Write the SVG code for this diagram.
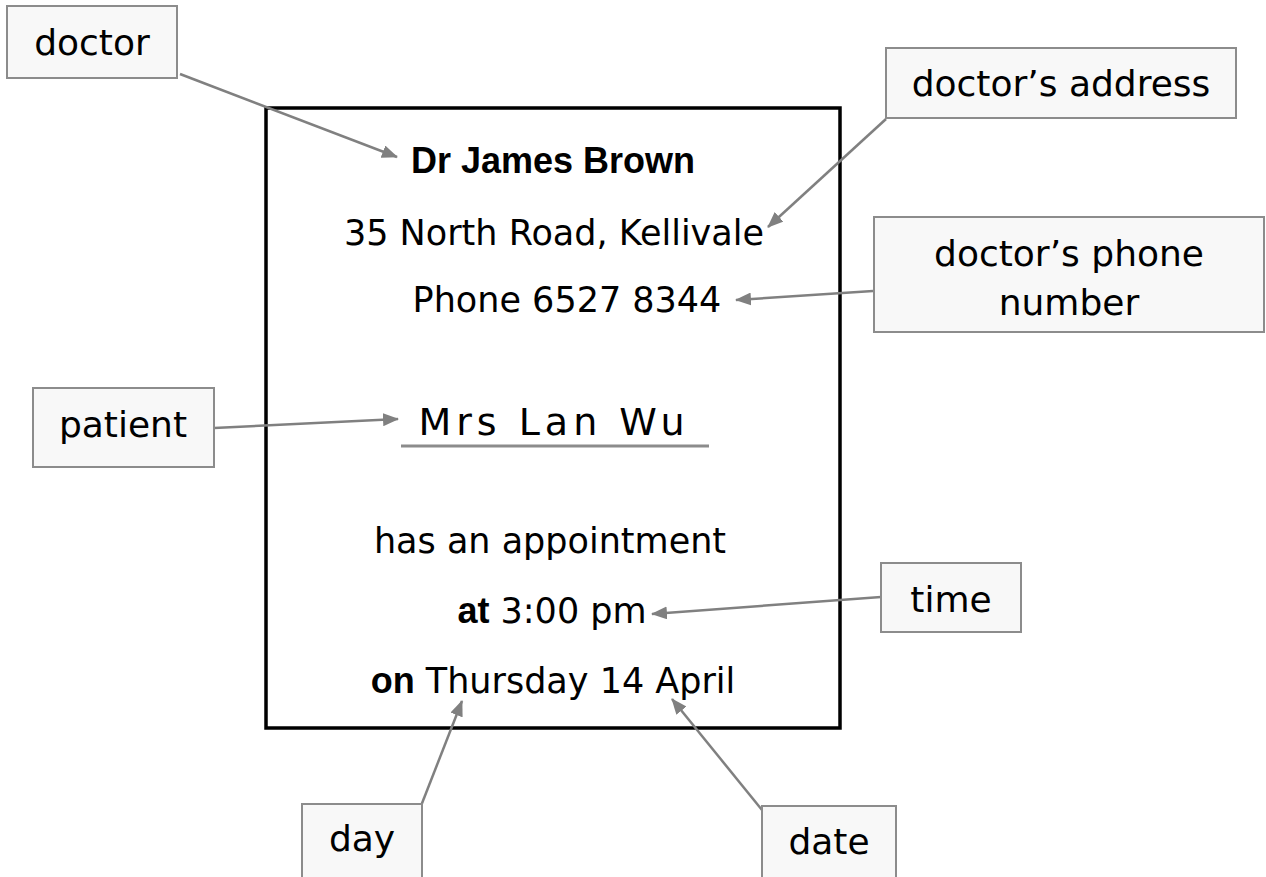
<svg xmlns="http://www.w3.org/2000/svg" width="1266" height="877" viewBox="0 0 1266 877">
<style>
.box{fill:#f8f8f8;stroke:#8c8c8c;stroke-width:2}
.lbl{font-family:"DejaVu Sans","Liberation Sans",sans-serif;font-size:36px;fill:#000;text-anchor:middle}
.card{fill:#fff;stroke:#000;stroke-width:3.5}
.ct{font-family:"DejaVu Sans","Liberation Sans",sans-serif;font-size:35px;fill:#000;text-anchor:middle}
.b{font-family:"Liberation Sans",Arial,sans-serif;font-weight:bold;font-size:36px}
.hand{font-family:"DejaVu Sans",sans-serif;font-size:38px;letter-spacing:5px;fill:#000;text-anchor:middle}
.con{stroke:#808080;stroke-width:2.5;fill:none;marker-end:url(#ah)}
</style>
<defs>
<marker id="ah" markerUnits="userSpaceOnUse" markerWidth="16" markerHeight="13" refX="15" refY="6.5" orient="auto">
<path d="M0,0 L16,6.5 L0,13 z" fill="#808080"/>
</marker>
</defs>
<rect width="1266" height="877" fill="#fff"/>
<g id="card">
<rect class="card" x="266" y="108" width="574" height="620"/>
<text class="ct b" x="553" y="173">Dr James Brown</text>
<text class="ct" x="554" y="245">35 North Road, Kellivale</text>
<text class="ct" x="567" y="312">Phone 6527 8344</text>
<text class="hand" x="554" y="435">Mrs Lan Wu</text>
<line x1="401" y1="446" x2="709" y2="446" stroke="#8c8c8c" stroke-width="3"/>
<text class="ct" x="550" y="553">has an appointment</text>
<text class="ct" x="552" y="623"><tspan class="b">at</tspan> 3:00 pm</text>
<text class="ct" x="553" y="693"><tspan class="b">on</tspan> Thursday 14 April</text>
</g>
<g id="connectors">
<line class="con" x1="180" y1="74" x2="397" y2="157"/>
<line class="con" x1="886" y1="119" x2="768" y2="227"/>
<line class="con" x1="873" y1="291" x2="736" y2="300"/>
<line class="con" x1="214" y1="428" x2="398" y2="419"/>
<line class="con" x1="881" y1="597" x2="652" y2="614"/>
<line class="con" x1="419" y1="811" x2="462" y2="701"/>
<line class="con" x1="762" y1="810" x2="672" y2="699"/>
</g>
<g id="doctor">
<rect class="box" x="7" y="6" width="170" height="72"/>
<text class="lbl" x="92" y="55">doctor</text>
</g>
<g id="address">
<rect class="box" x="886" y="48" width="350" height="70"/>
<text class="lbl" x="1061" y="96">doctor’s address</text>
</g>
<g id="phone">
<rect class="box" x="874" y="217" width="390" height="115"/>
<text class="lbl" x="1069" y="266">doctor’s phone</text>
<text class="lbl" x="1069" y="315">number</text>
</g>
<g id="patient">
<rect class="box" x="33" y="388" width="181" height="79"/>
<text class="lbl" x="123" y="437">patient</text>
</g>
<g id="time">
<rect class="box" x="881" y="563" width="140" height="69"/>
<text class="lbl" x="951" y="612">time</text>
</g>
<g id="day">
<rect class="box" x="302" y="804" width="120" height="80"/>
<text class="lbl" x="362" y="851">day</text>
</g>
<g id="date">
<rect class="box" x="762" y="806" width="134" height="80"/>
<text class="lbl" x="829" y="854">date</text>
</g>
</svg>
